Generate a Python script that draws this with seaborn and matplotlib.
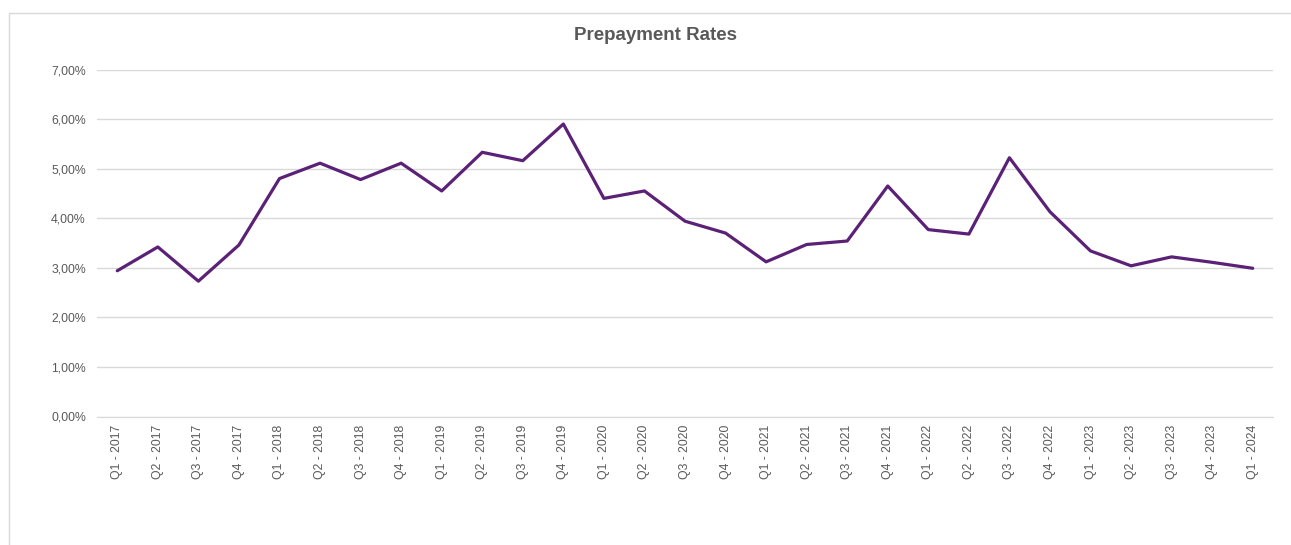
import pandas as pd
import seaborn as sns
import matplotlib.pyplot as plt
from matplotlib.patches import Rectangle
from matplotlib.ticker import FuncFormatter

quarters = [
    "Q1 - 2017", "Q2 - 2017", "Q3 - 2017", "Q4 - 2017",
    "Q1 - 2018", "Q2 - 2018", "Q3 - 2018", "Q4 - 2018",
    "Q1 - 2019", "Q2 - 2019", "Q3 - 2019", "Q4 - 2019",
    "Q1 - 2020", "Q2 - 2020", "Q3 - 2020", "Q4 - 2020",
    "Q1 - 2021", "Q2 - 2021", "Q3 - 2021", "Q4 - 2021",
    "Q1 - 2022", "Q2 - 2022", "Q3 - 2022", "Q4 - 2022",
    "Q1 - 2023", "Q2 - 2023", "Q3 - 2023", "Q4 - 2023",
    "Q1 - 2024",
]
rates = [
    2.94, 3.42, 2.73, 3.46,
    4.80, 5.11, 4.78, 5.11,
    4.55, 5.33, 5.16, 5.90,
    4.40, 4.55, 3.94, 3.70,
    3.12, 3.47, 3.54, 4.65,
    3.77, 3.68, 5.22, 4.13,
    3.34, 3.04, 3.22, 3.11,
    2.99,
]

df = pd.DataFrame({"quarter": quarters, "rate": [r / 100 for r in rates]})
df["pos"] = range(len(df))

sns.set_style("white")
plt.rcParams["font.family"] = ["Liberation Sans", "DejaVu Sans"]

fig = plt.figure(figsize=(12.91, 5.45), dpi=100)
ax = fig.add_axes([97 / 1291, 1 - 416.5 / 545, (1273 - 97) / 1291, 347 / 545])

# chart frame
fig.patches.append(Rectangle((9 / 1291, -0.05), 1.1, 1 - 13 / 545 + 0.05,
                             transform=fig.transFigure, fill=False,
                             edgecolor="#d9d9d9", linewidth=1))

sns.lineplot(data=df, x="pos", y="rate", color="#5b2177", linewidth=2.3, ax=ax)

ax.set_xlim(-0.5, len(df) - 0.5)
ax.set_ylim(0, 0.07)
ax.set_yticks([i / 100 for i in range(8)])
ax.yaxis.set_major_formatter(FuncFormatter(lambda v, p: f"{v * 100:.2f}%".replace(".", ",")))
ax.set_xticks(df["pos"])
ax.set_xticklabels(df["quarter"], rotation=90)

ax.grid(axis="y", color="#d9d9d9", linewidth=1)
ax.set_axisbelow(True)
for s in ["top", "right", "left"]:
    ax.spines[s].set_visible(False)
ax.spines["bottom"].set_color("#d9d9d9")
ax.tick_params(axis="both", length=0, labelsize=8.8, labelcolor="#595959")
ax.tick_params(axis="y", pad=8)
ax.tick_params(axis="x", pad=6)
ax.set_xlabel("")
ax.set_ylabel("")

fig.text(656 / 1291, 1 - 35 / 545, "Prepayment Rates", ha="center", va="center",
         fontsize=13.5, fontweight="bold", color="#595959")

fig.savefig("out.png", dpi=100)
